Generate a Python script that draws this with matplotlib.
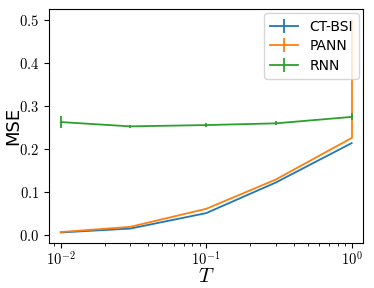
import matplotlib
matplotlib.use("Agg")
import matplotlib.pyplot as plt
import numpy as np
from matplotlib.ticker import FuncFormatter

plt.rcParams['mathtext.fontset'] = 'cm'

T = [0.01, 0.03, 0.1, 0.3, 1.0]
ctbsi = [0.005, 0.014, 0.050, 0.121, 0.213]
ctbsi_err = [0.0, 0.0, 0.0, 0.0, 0.0]
pann = [0.006, 0.018, 0.060, 0.128, 0.225]
pann_err_lo = [0.0, 0.0, 0.0, 0.0, 0.0]
pann_err_hi = [0.0, 0.0, 0.0, 0.0, 0.275]
rnn = [0.262, 0.252, 0.255, 0.259, 0.274]
rnn_err = [0.014, 0.004, 0.005, 0.005, 0.008]

fig = plt.figure(figsize=(3.74, 2.88), dpi=100)
ax = fig.add_axes([0.131, 0.156, 0.84, 0.812])
ax.errorbar(T, ctbsi, yerr=ctbsi_err, color='C0', label='CT-BSI', lw=1.3)
ax.errorbar(T, pann, yerr=[pann_err_lo, pann_err_hi], color='C1', label='PANN', lw=1.3)
ax.errorbar(T, rnn, yerr=rnn_err, color='C2', label='RNN', lw=1.3)
ax.set_xscale('log')
ax.set_xlim(0.0083, 1.2)
ax.yaxis.set_major_formatter(FuncFormatter(lambda v, p: r'$%.1f$' % v))
ax.xaxis.set_major_formatter(FuncFormatter(lambda v, p: r'$10^{%d}$' % round(np.log10(v))))
ax.set_ylabel('MSE', fontsize=13)
ax.yaxis.set_label_coords(-0.085, 0.5)
ax.set_xlabel(r'$T$', fontsize=15)
ax.xaxis.set_label_coords(0.5, -0.1)
ax.tick_params(labelsize=10.5)
ax.tick_params(axis='x', pad=1.5)
ax.legend(loc='upper right', fontsize=10, handlelength=2.0, borderpad=0.45,
          labelspacing=0.4, handletextpad=0.8, borderaxespad=0.3)
plt.savefig('out.png', dpi=100)
